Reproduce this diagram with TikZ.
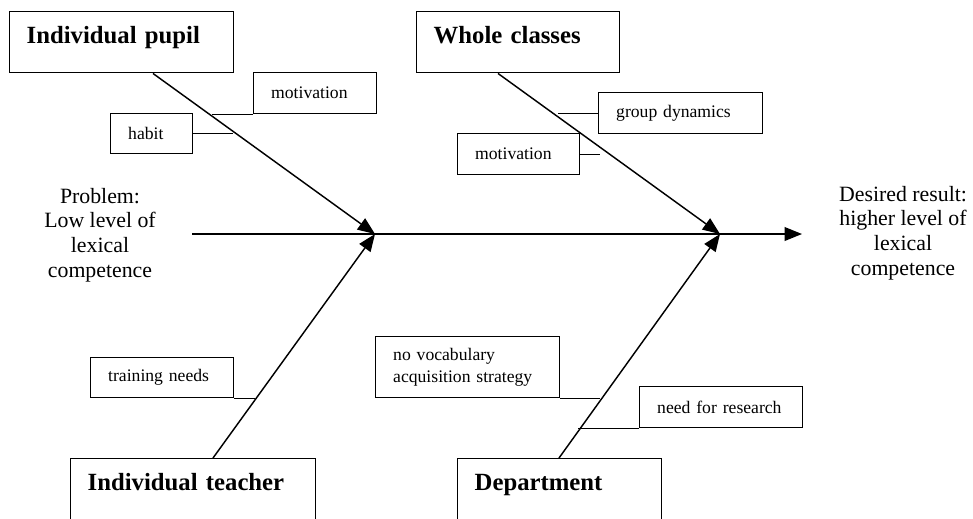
\documentclass[tikz,border=0pt]{standalone}
\usepackage{fontspec}
\setmainfont{Liberation Serif}
\usetikzlibrary{arrows.meta}

\begin{document}
\begin{tikzpicture}[x=0.55pt, y=-0.55pt, line width=0.8pt,
	big/.style={draw, anchor=north west, inner xsep=9.35pt, inner ysep=0pt, align=left, text height=17.6pt, font=\fontsize{13.6}{16}\selectfont\bfseries},
	small/.style={draw, anchor=north west, inner xsep=9.6pt, inner ysep=0pt, align=left, minimum height=22.55pt, font=\fontsize{9.7}{11.6}\selectfont},
	bone/.style={-{Triangle[length=9.5pt, width=7.5pt]}}]
	\path[use as bounding box, clip] (0,0) rectangle (973,518);
	% head and tail
	\node[align=center, font=\fontsize{12}{13.6}\selectfont](L) at (100,235){Problem:\\Low level of\\lexical\\competence};
	\node[align=center, font=\fontsize{12}{13.6}\selectfont](R) at (903,233){Desired result:\\higher level of\\lexical\\competence};
	\coordinate(S) at (192,234);
	\coordinate(X) at (375,234);
	\coordinate(Y) at (720,234);
	\coordinate(E) at (802,234);
	\draw [bone] (S) -- (E);
	% the four causes
	\node[big, text width=104.5pt, text depth=15.95pt](P) at (9,11){Individual pupil};
	\node[big, text width=92.95pt, text depth=15.95pt](W) at (416,11){Whole classes};
	\node[big, text width=116.05pt, text depth=27.5pt](T) at (70,458){Individual teacher};
	\node[big, text width=93.5pt, text depth=27.5pt](D) at (457,458){Department};
	\draw [bone] (P.south west) ++(144,0) -- (X);
	\draw [bone] (W.south west) ++(82,0) -- (Y);
	\draw [bone] (T.north west) ++(143,0) -- (X);
	\draw [bone] (D.north west) ++(102,0) -- (Y);
	% sub-causes
	\node[small, text width=48.4pt](P1) at (253,72){motivation};
	\node[small, text width=25.85pt, minimum height=22pt](P2) at (110,113){habit};
	\node[small, text width=70.95pt](W1) at (598,92){group dynamics};
	\node[small, text width=47.85pt](W2) at (457,133){motivation};
	\node[small, text width=59.4pt, minimum height=22pt](T1) at (90,357){training needs};
	\node[small, text width=81.95pt, minimum height=33.55pt](D1) at (375,336){no vocabulary\\acquisition strategy};
	\node[small, text width=70.4pt](D2) at (639,386){need for research};
	\draw (P1.south west) -- ++(-41,0);
	\draw (P2.east) -- ++(40,0);
	\draw (W1.west) -- ++(-40,0);
	\draw (W2.east) -- ++(20,0);
	\draw (T1.south east) -- ++(21,0);
	\draw (D1.south east) -- ++(40,0);
	\draw (D2.south west) -- ++(-61,0);
\end{tikzpicture}
\end{document}
